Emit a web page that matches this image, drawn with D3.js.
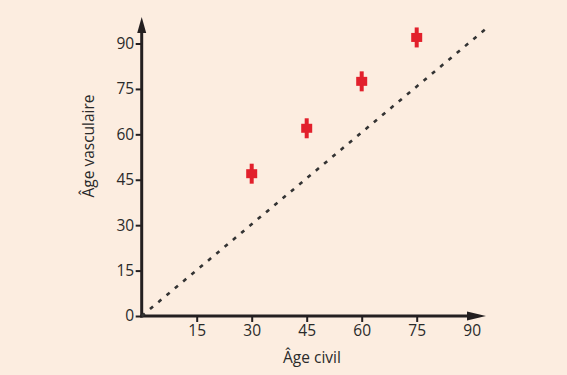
<!DOCTYPE html>
<html>
<head>
<meta charset="utf-8">
<script src="https://cdn.jsdelivr.net/npm/d3@7"></script>
<style>
  body { margin: 0; background: #fcede0; }
  svg { display: block; }
  text { font-family: "Open Sans", sans-serif; fill: #2a2a2a; }
</style>
</head>
<body>
<svg id="chart" width="567" height="375"></svg>
<script>
// data
var ageCivil = [30, 45, 60, 75];
var ageVasc = [47, 62, 77.5, 92];
var errVasc = [3.3, 3.3, 3.3, 3.3];
var yTicks = [0, 15, 30, 45, 60, 75, 90];
var xTicks = [15, 30, 45, 60, 75, 90];
var refLine = [[0, 0], [94, 95]];

var svg = d3.select("#chart");

var x = d3.scaleLinear().domain([0, 90]).range([141.7, 471.7]);
var y = d3.scaleLinear().domain([0, 90]).range([316, 43.5]);

var axisColor = "#231f20";

// y ticks
var yAxis = svg.append("g")
  .attr("transform", "translate(" + x(0) + ",0)")
  .call(d3.axisLeft(y).tickValues(yTicks).tickSize(6).tickPadding(1.5).tickSizeOuter(0));
yAxis.select(".domain").remove();
yAxis.selectAll(".tick line").attr("stroke", axisColor).attr("stroke-width", 2);
yAxis.selectAll(".tick text").style("font-size", "15.5px").attr("fill", "#2a2a2a").attr("font-family", "Open Sans");

// x ticks
var xAxis = svg.append("g")
  .attr("transform", "translate(0," + y(0) + ")")
  .call(d3.axisBottom(x).tickValues(xTicks).tickSize(6).tickPadding(3).tickSizeOuter(0));
xAxis.select(".domain").remove();
xAxis.selectAll(".tick line").attr("stroke", axisColor).attr("stroke-width", 2)
  .filter(function(d) { return d === 90; }).remove();
xAxis.selectAll(".tick text").style("font-size", "15.5px").attr("fill", "#2a2a2a").attr("font-family", "Open Sans");

// axis lines with arrows
svg.append("line")
  .attr("x1", x(0)).attr("y1", y(0) + 1.5)
  .attr("x2", x(0)).attr("y2", 32)
  .attr("stroke", axisColor).attr("stroke-width", 3);
svg.append("path")
  .attr("d", "M" + (x(0) - 4.5) + ",33 L" + x(0) + ",17 L" + (x(0) + 4.5) + ",33 Z")
  .attr("fill", axisColor);

svg.append("line")
  .attr("x1", x(0) - 1.5).attr("y1", y(0))
  .attr("x2", 469).attr("y2", y(0))
  .attr("stroke", axisColor).attr("stroke-width", 3);
svg.append("path")
  .attr("d", "M467," + (y(0) - 4.5) + " L486," + y(0) + " L467," + (y(0) + 4.5) + " Z")
  .attr("fill", axisColor);

// reference diagonal
svg.append("path")
  .datum(refLine)
  .attr("d", d3.line().x(function(d) { return x(d[0]); }).y(function(d) { return y(d[1]); }))
  .attr("fill", "none")
  .attr("stroke", "#333")
  .attr("stroke-width", 2.6)
  .attr("stroke-dasharray", "4,6.8");

// points with error bars
var pts = ageCivil.map(function(v, i) {
  return { x: v, y: ageVasc[i], e: errVasc[i] };
});

var red = "#e2202c";
var g = svg.selectAll(".pt").data(pts).enter().append("g").attr("class", "pt");
g.append("rect")
  .attr("x", function(d) { return x(d.x) - 2; })
  .attr("y", function(d) { return y(d.y + d.e); })
  .attr("width", 4)
  .attr("height", function(d) { return y(d.y - d.e) - y(d.y + d.e); })
  .attr("fill", red);
g.append("rect")
  .attr("x", function(d) { return x(d.x) - 5.5; })
  .attr("y", function(d) { return y(d.y) - 4.5; })
  .attr("width", 11)
  .attr("height", 9)
  .attr("fill", red);

// axis titles
svg.append("text")
  .attr("x", 312).attr("y", 363)
  .attr("text-anchor", "middle")
  .style("font-size", "15.5px")
  .text("Âge civil");

svg.append("text")
  .attr("transform", "translate(94,146) rotate(-90)")
  .attr("text-anchor", "middle")
  .style("font-size", "15.5px")
  .text("Âge vasculaire");
</script>
</body>
</html>
